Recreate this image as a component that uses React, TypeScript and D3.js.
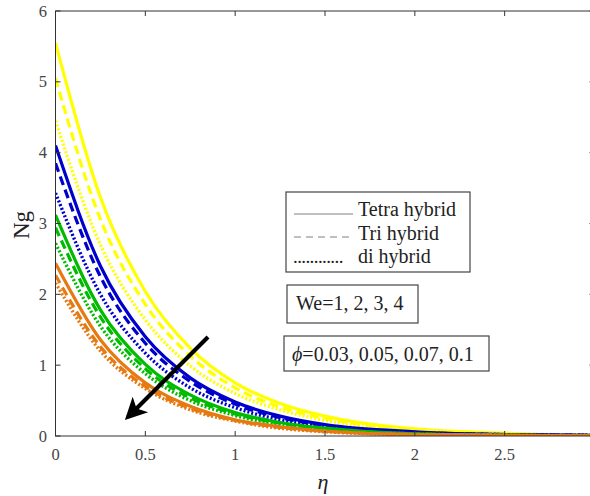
import React from "react";
import * as d3 from "d3";

const etaPoints = [0, 0.25, 0.5, 0.75, 1, 1.25, 1.5, 2, 2.5, 3];

const yellowSolid = [5.55, 3.37, 2.04, 1.24, 0.75, 0.46, 0.28, 0.1, 0.04, 0.01];
const yellowDashed = [5.05, 3.06, 1.86, 1.13, 0.68, 0.41, 0.25, 0.09, 0.03, 0.01];
const yellowDotted = [4.45, 2.7, 1.64, 0.99, 0.6, 0.37, 0.22, 0.08, 0.03, 0.01];
const blueSolid = [4.1, 2.4, 1.4, 0.82, 0.48, 0.28, 0.16, 0.06, 0.02, 0.01];
const blueDashed = [3.85, 2.25, 1.31, 0.77, 0.45, 0.26, 0.15, 0.05, 0.02, 0.01];
const blueDotted = [3.43, 2.0, 1.17, 0.68, 0.4, 0.23, 0.14, 0.05, 0.02, 0.01];
const greenSolid = [3.12, 1.78, 1.01, 0.58, 0.33, 0.19, 0.11, 0.03, 0.01, 0.0];
const greenDashed = [2.94, 1.68, 0.95, 0.54, 0.31, 0.18, 0.1, 0.03, 0.01, 0.0];
const greenDotted = [2.72, 1.55, 0.88, 0.5, 0.29, 0.16, 0.09, 0.03, 0.01, 0.0];
const orangeSolid = [2.44, 1.36, 0.75, 0.42, 0.23, 0.13, 0.07, 0.02, 0.01, 0.0];
const orangeDashed = [2.27, 1.26, 0.7, 0.39, 0.22, 0.12, 0.07, 0.02, 0.01, 0.0];
const orangeDotted = [2.16, 1.2, 0.67, 0.37, 0.21, 0.11, 0.06, 0.02, 0.01, 0.0];

const xTicks = [0, 0.5, 1, 1.5, 2, 2.5, 3];
const yTicks = [0, 1, 2, 3, 4, 5, 6];
const legendLabels = ["Tetra hybrid", "Tri hybrid", "di hybrid"];
const weLabel = "We=1, 2, 3, 4";
const phiLabel = "=0.03, 0.05, 0.07, 0.1";

const YELLOW = "#ffff00";
const BLUE = "#0000cc";
const GREEN = "#00bb00";
const ORANGE = "#e67a12";

const SOLID = "none";
const DASHED = "9,5";
const DOTTED = "2,2";

const series = [
  { v: yellowSolid, c: YELLOW, d: SOLID },
  { v: yellowDashed, c: YELLOW, d: DASHED },
  { v: yellowDotted, c: YELLOW, d: DOTTED },
  { v: blueSolid, c: BLUE, d: SOLID },
  { v: blueDashed, c: BLUE, d: DASHED },
  { v: blueDotted, c: BLUE, d: DOTTED },
  { v: greenSolid, c: GREEN, d: SOLID },
  { v: greenDashed, c: GREEN, d: DASHED },
  { v: greenDotted, c: GREEN, d: DOTTED },
  { v: orangeSolid, c: ORANGE, d: SOLID },
  { v: orangeDashed, c: ORANGE, d: DASHED },
  { v: orangeDotted, c: ORANGE, d: DOTTED },
];

const FONT = "'Liberation Serif', 'Times New Roman', serif";
const AX = "#333";

export default function App() {
  const W = 590, H = 496;
  const L = 55.5, R = 594.5, T = 11, B = 436;
  const x = d3.scaleLinear().domain([0, 3]).range([L, R]);
  const y = d3.scaleLinear().domain([0, 6]).range([B, T]);
  const line = d3
    .line<number>()
    .x((_, i) => x(etaPoints[i]))
    .y((d) => y(d))
    .curve(d3.curveMonotoneX);

  return (
    <svg width={W} height={H} style={{ position: "absolute", left: 0, top: 0, background: "#fff" }}>
      <defs>
        <clipPath id="plot">
          <rect x={L} y={T} width={R - L} height={B - T} />
        </clipPath>
        <marker id="ah" viewBox="0 0 10 10" refX="8" refY="5" markerWidth="6" markerHeight="5.5" orient="auto" markerUnits="strokeWidth">
          <path d="M0,0 L10,5 L0,10 L2.5,5 Z" fill="#000" />
        </marker>
      </defs>
      <rect x={0} y={0} width={W} height={H} fill="#fff" />
      <g clipPath="url(#plot)">
        {series.map((s, i) => (
          <path
            key={i}
            d={line(s.v) || ""}
            fill="none"
            stroke={s.c}
            strokeWidth={s.d === DOTTED ? 3.4 : 3.2}
            strokeDasharray={s.d}
          />
        ))}
      </g>
      <rect x={L} y={T} width={R - L} height={B - T} fill="none" stroke={AX} strokeWidth={1} />
      {xTicks.map((t) => (
        <g key={"x" + t}>
          <line x1={x(t)} x2={x(t)} y1={B} y2={B - 5} stroke={AX} />
          <line x1={x(t)} x2={x(t)} y1={T} y2={T + 5} stroke={AX} />
          <text x={x(t)} y={460} fontFamily={FONT} fontSize={16.5} fill="#444" textAnchor="middle">
            {t}
          </text>
        </g>
      ))}
      {yTicks.map((t) => (
        <g key={"y" + t}>
          <line x1={L} x2={L + 5} y1={y(t)} y2={y(t)} stroke={AX} />
          <line x1={R} x2={R - 5} y1={y(t)} y2={y(t)} stroke={AX} />
          <text x={47} y={y(t) + 5.5} fontFamily={FONT} fontSize={16.5} fill="#444" textAnchor="end">
            {t}
          </text>
        </g>
      ))}
      <text x={323} y={489} fontFamily={FONT} fontSize={22} fontStyle="italic" fill="#222" textAnchor="middle">
        η
      </text>
      <text
        transform="translate(29,225) rotate(-90)"
        fontFamily={FONT}
        fontSize={23}
        fill="#222"
        textAnchor="middle"
      >
        Ng
      </text>
      <line x1={208} y1={337} x2={128} y2={417} stroke="#000" strokeWidth={4} markerEnd="url(#ah)" />
      <rect x={286} y={192} width={184} height={80} fill="#fff" stroke="#444" strokeWidth={1.2} />
      <line x1={294} x2={353} y1={214} y2={214} stroke="#aaa" strokeWidth={1.5} />
      <line x1={294} x2={353} y1={237} y2={237} stroke="#aaa" strokeWidth={1.5} strokeDasharray="7,5" />
      <text x={293} y={263} fontFamily={FONT} fontSize={19} fill="#222" letterSpacing={-0.6}>
        ............
      </text>
      {legendLabels.map((l, i) => (
        <text key={l} x={358} y={216 + i * 23.5} fontFamily={FONT} fontSize={20} fill="#222">
          {l}
        </text>
      ))}
      <rect x={287} y={285} width={131} height={38} fill="#fff" stroke="#444" strokeWidth={1.2} />
      <text x={296} y={310} fontFamily={FONT} fontSize={20} fill="#222">
        {weLabel}
      </text>
      <rect x={284} y={336} width={205} height={35} fill="#fff" stroke="#444" strokeWidth={1.2} />
      <text x={292} y={361} fontFamily={FONT} fontSize={20} fill="#222">
        <tspan fontStyle="italic">ϕ</tspan>
        {phiLabel}
      </text>
    </svg>
  );
}
